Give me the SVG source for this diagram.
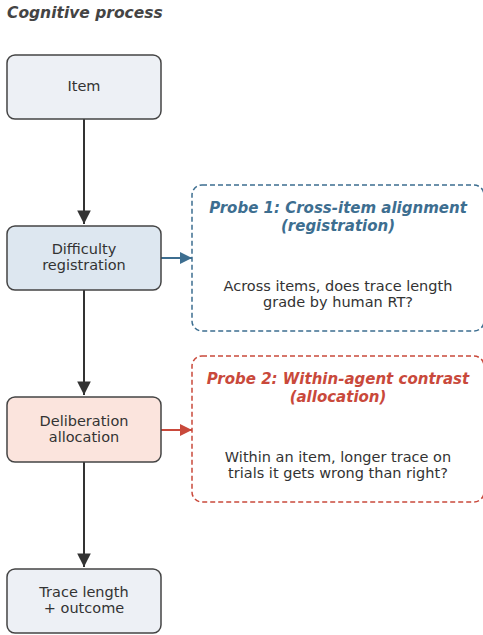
<svg xmlns="http://www.w3.org/2000/svg" width="483" height="635" viewBox="0 0 483 635">
<style>
text{font-family:"DejaVu Sans",sans-serif;font-size:14.5px;fill:#333}
.node{stroke:#444;stroke-width:1.5}
.c{text-anchor:middle}
.pt{font-weight:bold;font-style:italic;font-size:15px}
.flow{stroke:#333;stroke-width:2;fill:none}
.probe{fill:#fff;stroke-width:1.5;stroke-dasharray:5,3}
</style>
<defs>
<marker id="ad" viewBox="0 0 10 10" refX="10" refY="5" markerWidth="6.8" markerHeight="6.8" orient="auto" markerUnits="strokeWidth"><path d="M0,0L10,5L0,10z" fill="#333"/></marker>
<marker id="ab" viewBox="0 0 10 10" refX="10" refY="5" markerWidth="6.5" markerHeight="6" orient="auto" markerUnits="strokeWidth"><path d="M0,0L10,5L0,10z" fill="#3d6e90"/></marker>
<marker id="ar" viewBox="0 0 10 10" refX="10" refY="5" markerWidth="6.5" markerHeight="6" orient="auto" markerUnits="strokeWidth"><path d="M0,0L10,5L0,10z" fill="#c9493b"/></marker>
</defs>
<text x="7" y="18" class="pt" style="fill:#444;font-size:15.5px">Cognitive process</text>
<g id="connectors">
<line class="flow" x1="84" y1="119" x2="84" y2="224" marker-end="url(#ad)"/>
<line class="flow" x1="84" y1="290" x2="84" y2="395" marker-end="url(#ad)"/>
<line class="flow" x1="84" y1="462" x2="84" y2="567" marker-end="url(#ad)"/>
<line x1="161" y1="258" x2="192" y2="258" stroke="#3d6e90" stroke-width="2" marker-end="url(#ab)"/>
<line x1="161" y1="430" x2="192" y2="430" stroke="#c9493b" stroke-width="2" marker-end="url(#ar)"/>
</g>
<g id="item"><rect class="node" x="7" y="55" width="154" height="64" rx="8" fill="#edf0f5"/><text class="c" x="84" y="91">Item</text></g>
<g id="difficulty"><rect class="node" x="7" y="226" width="154" height="64" rx="8" fill="#dde7f0"/><text class="c" x="84" y="254">Difficulty</text><text class="c" x="84" y="270">registration</text></g>
<g id="deliberation"><rect class="node" x="7" y="397" width="154" height="65" rx="8" fill="#fbe4dd"/><text class="c" x="84" y="426">Deliberation</text><text class="c" x="84" y="442">allocation</text></g>
<g id="trace"><rect class="node" x="7" y="569" width="154" height="64" rx="8" fill="#edf0f5"/><text class="c" x="84" y="597">Trace length</text><text class="c" x="84" y="613">+ outcome</text></g>
<g id="probe1"><rect class="probe" x="192" y="185" width="292" height="146" rx="10" stroke="#3d6e90"/>
<text class="c pt" x="338" y="213" style="fill:#3d6e90">Probe 1: Cross-item alignment</text><text class="c pt" x="338" y="231" style="fill:#3d6e90">(registration)</text>
<text class="c" x="338" y="291">Across items, does trace length</text><text class="c" x="338" y="307">grade by human RT?</text></g>
<g id="probe2"><rect class="probe" x="192" y="356" width="292" height="146" rx="10" stroke="#c9493b"/>
<text class="c pt" x="338" y="384" style="fill:#c9493b">Probe 2: Within-agent contrast</text><text class="c pt" x="338" y="402" style="fill:#c9493b">(allocation)</text>
<text class="c" x="338" y="462">Within an item, longer trace on</text><text class="c" x="338" y="478">trials it gets wrong than right?</text></g>
</svg>
